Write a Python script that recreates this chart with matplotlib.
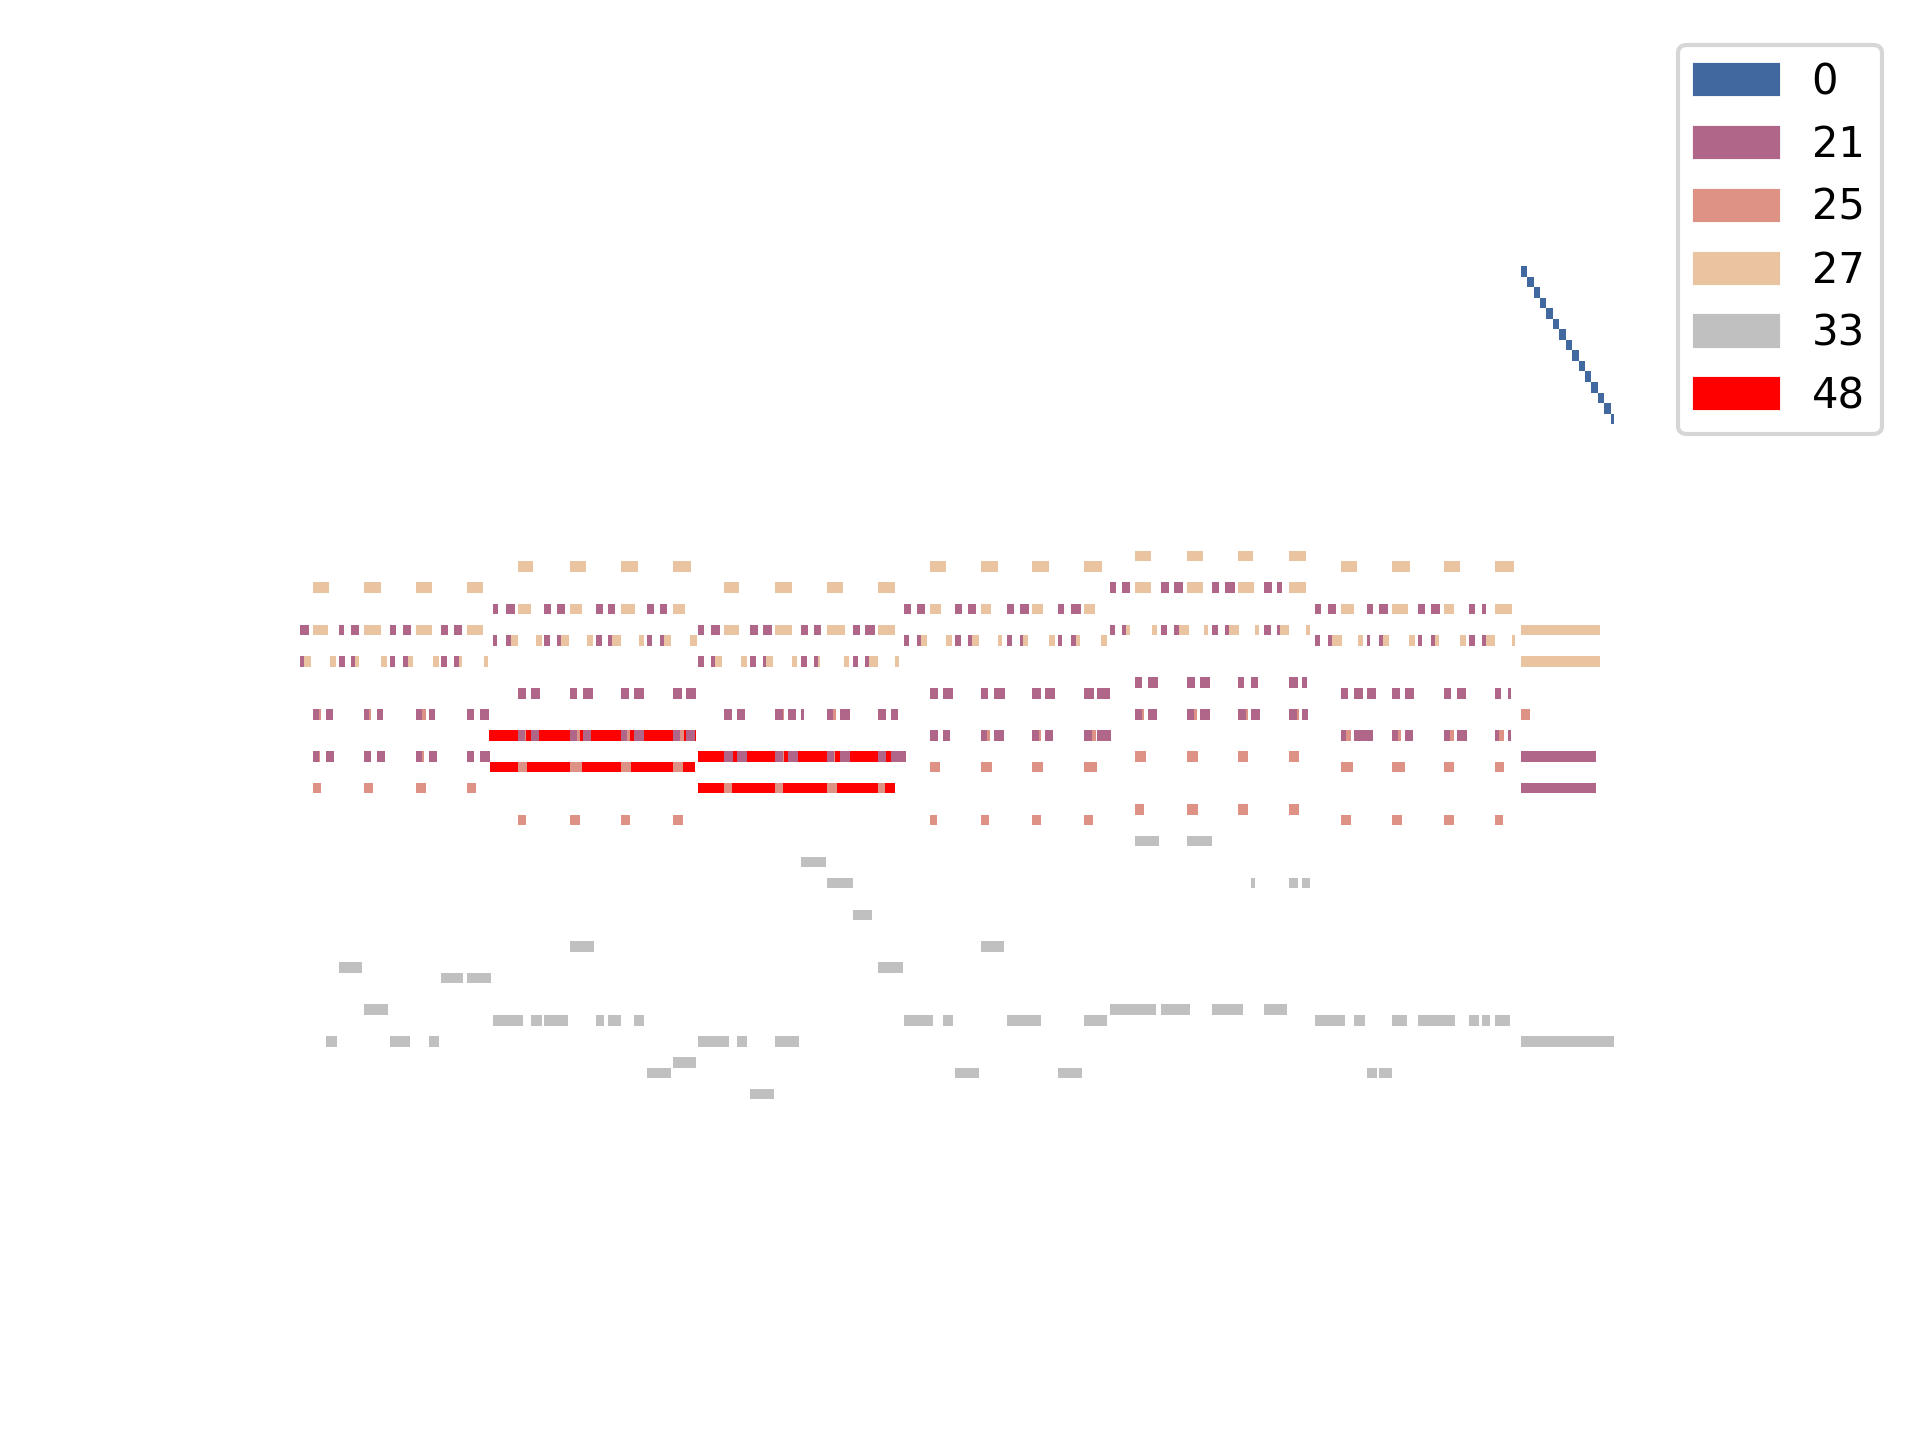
import matplotlib
matplotlib.use('Agg')
import matplotlib.pyplot as plt
from matplotlib.patches import Patch

programs = ['0', '21', '25', '27', '33', '48']
colors = ['#4268a0', '#b06688', '#de9285', '#eac3a0', '#c0c0c0', '#ff0000']

# notes as (start, duration, pitch), time in sixteenth notes
piano = [(95.0, 0.5, 104), (95.5, 0.5, 103), (96.0, 0.5, 102), (96.5, 0.5, 101),
         (97.0, 0.5, 100), (97.5, 0.5, 99), (98.0, 0.5, 98), (98.5, 0.5, 97),
         (99.0, 0.5, 96), (99.5, 0.5, 95), (100.0, 0.5, 94), (100.5, 0.5, 93),
         (101.0, 0.5, 92), (101.5, 0.5, 91), (102.0, 0.25, 90)]

accordion = [
    (0, 0.7, 70), (3, 0.4, 70), (4, 0.62, 70), (7, 0.47, 70), (8, 0.62, 70), (11, 0.55, 70), (12, 0.62, 70),
    (0, 0.3, 67), (3, 0.47, 67), (4, 0.3, 67), (7, 0.4, 67), (8, 0.4, 67), (11, 0.47, 67), (12, 0.4, 67),
    (1, 0.47, 62), (2, 0.55, 62), (5, 0.4, 62), (6, 0.47, 62), (9, 0.47, 62), (10, 0.47, 62), (13, 0.55, 62), (14, 0.7, 62),
    (1, 0.47, 58), (2, 0.62, 58), (5, 0.55, 58), (6, 0.62, 58), (9, 0.47, 58), (10, 0.62, 58), (13, 0.55, 58), (14, 0.78, 58),
    (15, 0.4, 72), (16, 0.7, 72), (19, 0.55, 72), (20, 0.62, 72), (23, 0.55, 72), (24, 0.55, 72), (27, 0.55, 72), (28, 0.55, 72),
    (15, 0.3, 69), (16, 0.4, 69), (19, 0.47, 69), (20, 0.3, 69), (23, 0.47, 69), (24, 0.3, 69), (27, 0.4, 69), (28, 0.3, 69),
    (17, 0.62, 64), (18, 0.7, 64), (21, 0.55, 64), (22, 0.78, 64), (25, 0.62, 64), (26, 0.78, 64), (29, 0.7, 64), (30, 0.78, 64),
    (17, 0.47, 60), (18, 0.62, 60), (21, 0.55, 60), (22, 0.62, 60), (25, 0.47, 60), (26, 0.78, 60), (29, 0.55, 60), (30, 0.7, 60),
    (31, 0.47, 70), (32, 0.7, 70), (35, 0.62, 70), (36, 0.7, 70), (39, 0.55, 70), (40, 0.55, 70), (43, 0.55, 70), (44, 0.78, 70),
    (31, 0.47, 67), (32, 0.3, 67), (35, 0.47, 67), (36, 0.3, 67), (39, 0.47, 67), (40, 0.3, 67), (43, 0.4, 67), (44, 0.3, 67),
    (33, 0.62, 62), (34, 0.62, 62), (37, 0.55, 62), (38, 0.62, 62), (39, 0.2, 62), (41, 0.47, 62), (42, 0.78, 62), (45, 0.62, 62), (46, 0.55, 62),
    (33, 0.7, 58), (34, 0.78, 58), (37, 0.55, 58), (38, 0.78, 58), (41, 0.55, 58), (42, 0.78, 58), (45, 0.62, 58), (46, 1.15, 58),
    (47, 0.55, 72), (48, 0.62, 72), (51, 0.55, 72), (52, 0.62, 72), (55, 0.55, 72), (56, 0.7, 72), (59, 0.47, 72), (60, 0.78, 72),
    (47, 0.4, 69), (48, 0.3, 69), (51, 0.4, 69), (52, 0.3, 69), (55, 0.4, 69), (56, 0.3, 69), (59, 0.3, 69), (60, 0.4, 69),
    (49, 0.62, 64), (50, 0.78, 64), (53, 0.55, 64), (54, 0.85, 64), (57, 0.7, 64), (58, 0.78, 64), (61, 0.78, 64), (62, 1.0, 64),
    (49, 0.62, 60), (50, 0.62, 60), (53, 0.47, 60), (54, 0.78, 60), (57, 0.47, 60), (58, 0.62, 60), (61, 0.62, 60), (62, 1.15, 60),
    (63, 0.47, 74), (64, 0.62, 74), (67, 0.62, 74), (68, 0.7, 74), (71, 0.55, 74), (72, 0.78, 74), (75, 0.62, 74), (76, 0.4, 74),
    (63, 0.4, 70), (64, 0.3, 70), (67, 0.47, 70), (68, 0.4, 70), (71, 0.47, 70), (72, 0.3, 70), (75, 0.55, 70), (76, 0.25, 70),
    (65, 0.55, 65), (66, 0.78, 65), (69, 0.62, 65), (70, 0.78, 65), (73, 0.47, 65), (74, 0.55, 65), (77, 0.7, 65), (78, 0.4, 65),
    (65, 0.55, 62), (66, 0.7, 62), (69, 0.55, 62), (70, 0.78, 62), (73, 0.62, 62), (74, 0.7, 62), (77, 0.62, 62), (78, 0.47, 62),
    (79, 0.47, 72), (80, 0.62, 72), (83, 0.47, 72), (84, 0.7, 72), (87, 0.55, 72), (88, 0.7, 72), (91, 0.47, 72), (92, 0.3, 72),
    (79, 0.4, 69), (80, 0.3, 69), (83, 0.3, 69), (84, 0.3, 69), (87, 0.3, 69), (88, 0.3, 69), (91, 0.4, 69), (92, 0.3, 69),
    (81, 0.55, 64), (82, 0.7, 64), (83, 0.7, 64), (85, 0.62, 64), (86, 0.7, 64), (89, 0.55, 64), (90, 0.7, 64), (93, 0.47, 64), (94, 0.25, 64),
    (81, 0.4, 60), (82, 1.5, 60), (85, 0.47, 60), (86, 0.62, 60), (89, 0.47, 60), (90, 0.78, 60), (93, 0.3, 60), (94, 0.25, 60),
    (95, 5.85, 58), (95, 5.85, 55),
]

steel_guitar = [
    (1, 0.62, 62), (5, 0.55, 62), (9, 0.78, 62), (13, 0.5, 62),
    (1, 0.55, 58), (5, 0.55, 58), (9, 0.62, 58), (13, 0.5, 58),
    (1, 0.62, 55), (5, 0.7, 55), (9, 0.78, 55), (13, 0.7, 55),
    (17, 0.62, 60), (21, 0.78, 60), (25, 0.7, 60), (29, 0.85, 60),
    (17, 0.7, 57), (21, 0.95, 57), (25, 0.78, 57), (29, 0.78, 57),
    (17, 0.62, 52), (21, 0.78, 52), (25, 0.7, 52), (29, 0.78, 52),
    (33, 0.5, 62), (37, 0.7, 62), (41, 0.7, 62), (45, 0.5, 62),
    (33, 0.5, 58), (37, 0.7, 58), (41, 0.62, 58), (45, 0.5, 58),
    (33, 0.62, 55), (37, 0.55, 55), (41, 0.78, 55), (45, 0.55, 55),
    (49, 0.5, 60), (53, 0.7, 60), (57, 0.7, 60), (61, 0.95, 60),
    (49, 0.78, 57), (53, 0.85, 57), (57, 0.85, 57), (61, 1.0, 57),
    (49, 0.55, 52), (53, 0.62, 52), (57, 0.7, 52), (61, 0.7, 52),
    (65, 0.7, 62), (69, 0.78, 62), (73, 0.78, 62), (77, 0.78, 62),
    (65, 0.85, 58), (69, 0.85, 58), (73, 0.78, 58), (77, 0.78, 58),
    (65, 0.7, 53), (69, 0.85, 53), (73, 0.78, 53), (77, 0.78, 53),
    (81, 0.78, 60), (85, 0.7, 60), (89, 0.78, 60), (93, 0.7, 60),
    (81, 0.95, 57), (85, 1.0, 57), (89, 0.78, 57), (93, 0.7, 57),
    (81, 0.78, 52), (85, 0.78, 52), (89, 0.78, 52), (93, 0.62, 52),
    (95, 0.7, 62),
]

clean_guitar = [
    (1, 1.25, 74), (5, 1.3, 74), (9, 1.25, 74), (13, 1.25, 74),
    (1, 1.2, 70), (5, 1.3, 70), (9, 1.3, 70), (13, 1.25, 70),
    (0, 0.85, 67), (2.33, 0.47, 67), (4, 0.62, 67), (6.3, 0.47, 67), (8, 0.78, 67), (10.35, 0.47, 67), (12, 0.62, 67), (14.3, 0.3, 67),
    (17, 1.15, 76), (21, 1.25, 76), (25, 1.3, 76), (29, 1.4, 76),
    (17, 0.95, 72), (21, 0.95, 72), (25, 1.1, 72), (29, 0.95, 72),
    (16, 0.95, 69), (18.35, 0.47, 69), (20, 0.95, 69), (22.33, 0.47, 69), (24, 1.0, 69), (26.4, 0.4, 69), (28, 0.85, 69), (30.35, 0.55, 69),
    (33, 1.15, 74), (37, 1.3, 74), (41, 1.25, 74), (45, 1.3, 74),
    (33, 1.15, 70), (37, 1.3, 70), (41, 1.4, 70), (45, 1.3, 70),
    (32, 0.85, 67), (34.3, 0.47, 67), (36, 0.78, 67), (38.3, 0.4, 67), (40, 0.47, 67), (42.35, 0.4, 67), (44, 1.0, 67), (46.3, 0.3, 67),
    (49, 1.25, 76), (53, 1.3, 76), (57, 1.25, 76), (61, 1.4, 76),
    (49, 0.85, 72), (53, 0.78, 72), (57, 0.85, 72), (61, 0.85, 72),
    (48, 0.78, 69), (50.3, 0.47, 69), (52, 0.85, 69), (54.3, 0.3, 69), (56, 0.62, 69), (58.3, 0.47, 69), (60, 0.7, 69), (62.3, 0.47, 69),
    (65, 1.25, 77), (69, 1.25, 77), (73, 1.2, 77), (77, 1.3, 77),
    (65, 1.25, 74), (69, 1.25, 74), (73, 1.25, 74), (77, 1.25, 74),
    (64, 0.62, 70), (66.3, 0.4, 70), (68, 1.15, 70), (70.35, 0.3, 70), (72, 1.1, 70), (74.3, 0.3, 70), (76, 1.0, 70), (78.3, 0.3, 70),
    (81, 1.25, 76), (85, 1.4, 76), (89, 1.3, 76), (93, 1.5, 76),
    (81, 1.0, 72), (85, 1.25, 72), (89, 0.78, 72), (93, 1.3, 72),
    (80, 1.1, 69), (82.3, 0.4, 69), (84, 0.78, 69), (86.3, 0.47, 69), (88, 0.62, 69), (90.3, 0.4, 69), (92, 1.0, 69), (94.3, 0.25, 69),
    (95, 6.15, 70), (95, 6.2, 67),
]

bass = [
    (3, 1.8, 38), (11, 1.7, 37), (13, 1.85, 37), (5, 1.85, 34), (2, 0.85, 31), (7, 1.55, 31), (10, 0.85, 31),
    (21, 1.85, 40), (15, 2.35, 33), (18, 0.85, 33), (19, 1.85, 33), (23, 0.62, 33), (24, 1.0, 33), (26, 0.78, 33),
    (29, 1.85, 29), (27, 1.85, 28),
    (31, 2.35, 31), (34, 0.78, 31), (37, 1.85, 31), (35, 1.85, 26), (39, 1.95, 48), (41, 2.0, 46), (43, 1.5, 43), (45, 1.95, 38),
    (53, 1.8, 40), (47, 2.25, 33), (50, 0.85, 33), (55, 2.65, 33), (61, 1.8, 33), (51, 1.85, 28), (59, 1.85, 28),
    (65, 1.85, 50), (69, 2.0, 50), (74, 0.3, 46), (77, 0.7, 46), (78, 0.62, 46),
    (63, 3.65, 34), (67, 2.25, 34), (71, 2.35, 34), (75, 1.8, 34),
    (79, 2.35, 33), (82, 0.85, 33), (85, 1.15, 33), (87, 2.9, 33), (91, 0.78, 33), (92, 0.62, 33), (93, 1.15, 33),
    (83, 0.78, 28), (84, 1.0, 28),
    (95, 7.25, 31),
]

strings = [(14.7, 16.1, 60), (14.75, 15.95, 57), (31, 15.3, 58), (31, 15.3, 55)]

fig = plt.figure(figsize=(6.4, 4.8), dpi=300)
ax = fig.add_axes([0, 0, 1, 1])

# strings go underneath, accordion on top
draw_order = [(strings, colors[5]), (bass, colors[4]), (clean_guitar, colors[3]),
              (steel_guitar, colors[2]), (piano, colors[0]), (accordion, colors[1])]
for notes, c in draw_order:
    starts = [n[0] for n in notes]
    durs = [n[1] for n in notes]
    pitches = [n[2] for n in notes]
    ax.barh(pitches, durs, left=starts, height=1.0, color=c, linewidth=0)

ax.set_xlim(-23.35, 126.07)
ax.set_ylim(-6.78, 129.71)
ax.axis('off')

handles = [Patch(color=c) for c in colors]
ax.legend(handles, programs, loc='upper right', bbox_to_anchor=(0.98, 0.969),
          borderaxespad=0)

fig.savefig('out.png', dpi=300)
